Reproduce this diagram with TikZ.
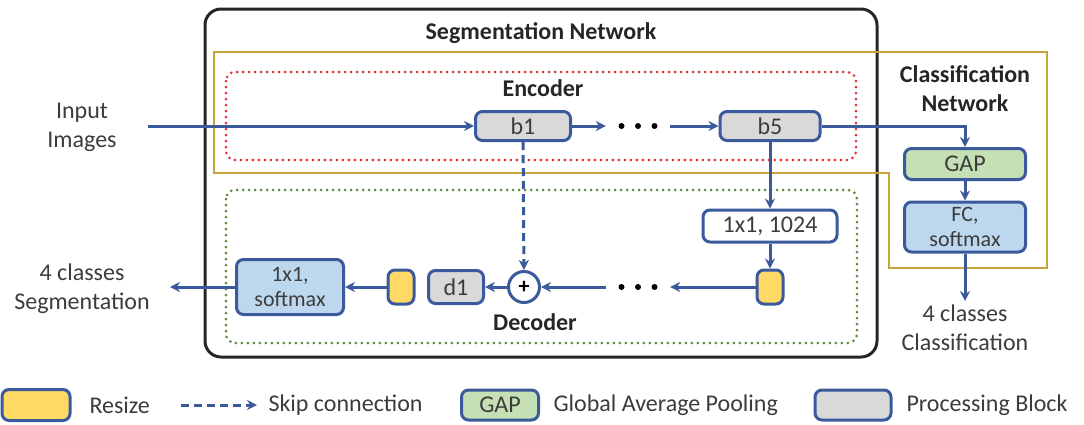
\documentclass[tikz,border=0pt]{standalone}
\usepackage{fontspec}
\setmainfont{Carlito}
\usetikzlibrary{arrows.meta, positioning}
\usepackage{xcolor}

\definecolor{lineblue}{HTML}{3A5A9C}
\definecolor{procgray}{HTML}{D9D9D9}
\definecolor{resizeyel}{HTML}{FFD966}
\definecolor{gapgreen}{HTML}{C5E0B4}
\definecolor{fcblue}{HTML}{BDD7EE}
\definecolor{clsgold}{HTML}{C9A43A}
\definecolor{encred}{HTML}{E5323C}
\definecolor{decgreen}{HTML}{5E8A3E}
\definecolor{textgray}{HTML}{3C3C3C}

\begin{document}
\begin{tikzpicture}[x=1pt, y=-1pt, % 1 unit = 1 pixel of the layout
  font=\fontsize{24}{29}\selectfont, text=textgray,
  block/.style={draw=lineblue, line width=\lw, rounded corners=7pt, inner sep=0pt, align=center},
  proc/.style={block, fill=procgray},
  resize/.style={block, fill=resizeyel, minimum width=26pt, minimum height=34pt},
  arr/.style={draw=lineblue, line width=\lw, -{Stealth[length=10pt, width=10pt]}},
  skip/.style={arr, dash pattern=on 8pt off 5pt},
  dotbox/.style={line width=3pt, dash pattern=on 0pt off 6pt, line cap=round, rounded corners=9pt},
  title/.style={font=\fontsize{24}{29}\selectfont\bfseries, text=black!85, align=center}]
  \def\lw{3pt} % line width of blocks and arrows
  \def\yenc{126} % row of the encoder
  \def\ydec{287} % row of the decoder
  \def\ylg{405}  % row of the legend
  \useasboundingbox (0,0) rectangle (1084,424);

  % containers
  \draw[line width=\lw, black!85, rounded corners=16pt] (205,9) rectangle (877,357);
  \draw[clsgold, line width=2.2pt] (214,52) -- (1047,52) -- (1047,268) -- (889,268) -- (889,173) -- (214,173) -- cycle;
  \draw[dotbox, encred] (226,72) rectangle (856,160);
  \draw[dotbox, decgreen] (226,190) rectangle (857,343);

  \node[title] (segtitle) at (541,33) {Segmentation Network};
  \node[title] (enctitle) at (543,88) {Encoder};
  \node[title] (dectitle) at (535,322) {Decoder};
  \node[title] (clstitle) at (965,89) {Classification\\Network};

  % encoder
  \node[proc, minimum width=95pt, minimum height=29pt] (b1) at (523,\yenc) {b1};
  \node[proc, minimum width=100pt, minimum height=29pt] (b5) at (770,\yenc) {b5};
  \node[minimum width=64pt, inner sep=0pt] (dotsE) at (638,\yenc) {};
  \node[align=center] (inputlbl) at (82,127) {Input\\Images};
  \coordinate (inStart) at (148,\yenc);

  % decoder
  \node[block, fill=white, minimum width=134pt, minimum height=32pt] (conv) at (770,226) {1x1, 1024};
  \node[resize] (resizeR) at (770,\ydec) {};
  \node[minimum width=64pt, inner sep=0pt] (dotsD) at (638,\ydec) {};
  \node[circle, draw=lineblue, line width=\lw, fill=white, minimum size=31pt, inner sep=0pt,
        text=black, font=\fontsize{22}{22}\selectfont\bfseries] (plus) at (524,\ydec) {+};
  \node[proc, minimum width=55pt, minimum height=33pt] (d1) at (456,\ydec) {d1};
  \node[resize] (resizeL) at (401,\ydec) {};
  \node[block, fill=fcblue, minimum width=107pt, minimum height=55pt,
        font=\fontsize{22}{25}\selectfont] (segsoft) at (290,\ydec) {1x1,\\softmax};
  \node[align=center] (segout) at (82,289) {4 classes\\Segmentation};
  \coordinate (segEnd) at (170,\ydec);

  % classification
  \node[block, fill=gapgreen, minimum width=121pt, minimum height=31pt] (gap) at (965,164) {GAP};
  \node[block, fill=fcblue, minimum width=121pt, minimum height=50pt,
        font=\fontsize{22}{25}\selectfont] (fc) at (965,227) {FC,\\softmax};
  \node[align=center, anchor=north] (clsout) at (965,301) {4 classes\\Classification};

  \foreach \k in {-1,0,1}
  {
      \fill (dotsE.center) ++(\k*16.5,0) circle (3pt);
      \fill (dotsD.center) ++(\k*16.5,0) circle (3pt);
  }

  % connectors
  \draw[arr] (inStart) -- (b1);
  \draw[arr] (b1) -- (dotsE.west);
  \draw[arr] (dotsE.east) -- (b5);
  \draw[arr] (b5) -- (conv);
  \draw[arr] (conv) -- (resizeR);
  \draw[arr] (resizeR) -- (dotsD.east);
  \draw[arr] (dotsD.west) -- (plus);
  \draw[arr] (plus) -- (d1);
  \draw[arr] (resizeL) -- (segsoft);
  \draw[arr] (segsoft) -- (segEnd);
  \draw[skip] (b1) -- (plus);
  \draw[arr] (b5.east) -| (gap.north);
  \draw[arr] (gap) -- (fc);
  \draw[arr] (fc) -- (clsout);

  % legend
  \node[block, fill=resizeyel, minimum width=68pt, minimum height=31pt] (legResize) at (36,\ylg) {};
  \node[anchor=west] (legResizeTxt) at (86,\ylg) {Resize};
  \coordinate (legSkipA) at (181,\ylg);
  \coordinate (legSkipB) at (257,\ylg);
  \draw[skip] (legSkipA) -- (legSkipB);
  \node[anchor=west] (legSkipTxt) at (265,\ylg) {Skip connection};
  \node[block, fill=gapgreen, minimum width=77pt, minimum height=30pt] (legGap) at (500,\ylg) {GAP};
  \node[anchor=west] (legGapTxt) at (550,\ylg) {Global Average Pooling};
  \node[proc, minimum width=76pt, minimum height=30pt] (legProc) at (853,\ylg) {};
  \node[anchor=west] (legProcTxt) at (903,\ylg) {Processing Block};
\end{tikzpicture}
\end{document}
